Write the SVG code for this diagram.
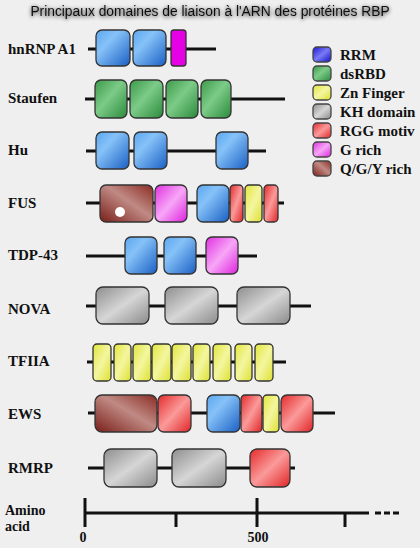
<svg xmlns="http://www.w3.org/2000/svg" width="420" height="548" viewBox="0 0 420 548">
<defs>
<linearGradient id="gB" x1="0" y1="0" x2="1" y2="1"><stop offset="0" stop-color="#5aa6f0"/><stop offset="0.35" stop-color="#86c2f8"/><stop offset="1" stop-color="#1a5fc4"/></linearGradient>
<linearGradient id="gG" x1="0" y1="0" x2="1" y2="1"><stop offset="0" stop-color="#3c9a48"/><stop offset="0.45" stop-color="#7ccb88"/><stop offset="1" stop-color="#2a8a3a"/></linearGradient>
<linearGradient id="gK" x1="0" y1="0" x2="1" y2="1"><stop offset="0" stop-color="#8e8e8e"/><stop offset="0.5" stop-color="#d6d6d6"/><stop offset="1" stop-color="#8a8a8a"/></linearGradient>
<linearGradient id="gY" x1="0" y1="0" x2="1" y2="1"><stop offset="0" stop-color="#e2e63a"/><stop offset="0.5" stop-color="#f4f6a0"/><stop offset="1" stop-color="#dde030"/></linearGradient>
<linearGradient id="gR" x1="0" y1="0" x2="1" y2="1"><stop offset="0" stop-color="#e42a2a"/><stop offset="0.5" stop-color="#fb9a9a"/><stop offset="1" stop-color="#e02424"/></linearGradient>
<linearGradient id="gM" x1="0" y1="0" x2="1" y2="1"><stop offset="0" stop-color="#e030e0"/><stop offset="0.5" stop-color="#f7a6f7"/><stop offset="1" stop-color="#dd22dd"/></linearGradient>
<linearGradient id="gQ" x1="0" y1="1" x2="1" y2="0"><stop offset="0" stop-color="#7a1e18"/><stop offset="0.55" stop-color="#c08a84"/><stop offset="1" stop-color="#8a2c24"/></linearGradient>
<linearGradient id="gLB" x1="0" y1="0" x2="1" y2="1"><stop offset="0" stop-color="#1818d8"/><stop offset="0.5" stop-color="#7a7af5"/><stop offset="1" stop-color="#1010c8"/></linearGradient>
<filter id="glow" x="-10%" y="-60%" width="120%" height="220%"><feGaussianBlur in="SourceAlpha" stdDeviation="2"/><feComponentTransfer><feFuncA type="linear" slope="0.9"/></feComponentTransfer><feOffset dx="0" dy="1"/><feMerge><feMergeNode/><feMergeNode in="SourceGraphic"/></feMerge></filter>
</defs>
<style>
.bg{fill:#efefef}
.title{font-family:"Liberation Sans",Arial,sans-serif;font-size:13.8px;fill:#111}
.lbl{font-family:"Liberation Serif","Times New Roman",serif;font-size:15px;font-weight:bold;fill:#111}
.leg{font-family:"Liberation Serif","Times New Roman",serif;font-size:15px;font-weight:bold;fill:#111}
.ax{font-family:"Liberation Serif","Times New Roman",serif;font-size:14px;font-weight:bold;fill:#111}
.num{font-family:"Liberation Serif","Times New Roman",serif;font-size:14px;font-weight:bold;fill:#111}
.ln{stroke:#111;stroke-width:3;fill:none}
.bx{stroke:#333;stroke-width:1.3}
.lb{stroke:#444;stroke-width:1.3}
.B{fill:url(#gB)}.G{fill:url(#gG)}.K{fill:url(#gK)}.Y{fill:url(#gY)}.R{fill:url(#gR)}.M{fill:url(#gM)}.Q{fill:url(#gQ)}
.MS{fill:#e600e6}
</style>
<rect class="bg" x="0" y="0" width="420" height="548"/>
<text class="title" x="210" y="16" text-anchor="middle" filter="url(#glow)">Principaux domaines de liaison à l'ARN des protéines RBP</text>

<g id="legend">
<rect class="lb" x="313" y="47" width="18" height="15" rx="4" fill="url(#gLB)"/><text class="leg" x="340" y="60">RRM</text>
<rect class="lb G" x="313" y="66" width="18" height="15" rx="4"/><text class="leg" x="340" y="79">dsRBD</text>
<rect class="lb Y" x="313" y="85" width="18" height="15" rx="4"/><text class="leg" x="340" y="98">Zn Finger</text>
<rect class="lb K" x="313" y="104" width="18" height="15" rx="4"/><text class="leg" x="340" y="117">KH domain</text>
<rect class="lb R" x="313" y="123" width="18" height="15" rx="4"/><text class="leg" x="340" y="136">RGG motiv</text>
<rect class="lb M" x="313" y="142" width="18" height="15" rx="4"/><text class="leg" x="340" y="155">G rich</text>
<rect class="lb Q" x="313" y="161" width="18" height="15" rx="4"/><text class="leg" x="340" y="174">Q/G/Y rich</text>
</g>

<g id="connectors">
<line class="ln" x1="88" y1="49" x2="216" y2="49"/>
<line class="ln" x1="85" y1="99" x2="285" y2="99"/>
<line class="ln" x1="86" y1="151" x2="266" y2="151"/>
<line class="ln" x1="86" y1="203" x2="284" y2="203"/>
<line class="ln" x1="86" y1="256" x2="257" y2="256"/>
<line class="ln" x1="86" y1="306" x2="311" y2="306"/>
<line class="ln" x1="87" y1="362" x2="286" y2="362"/>
<line class="ln" x1="88" y1="413" x2="335" y2="413"/>
<line class="ln" x1="88" y1="468" x2="295" y2="468"/>
</g>

<g id="hnRNPA1">
<text class="lbl" x="8" y="54">hnRNP A1</text>
<rect class="bx B" x="96" y="30" width="34" height="36" rx="6"/>
<rect class="bx B" x="133" y="30" width="33" height="36" rx="6"/>
<rect class="bx MS" x="171" y="30" width="15" height="36" rx="3"/>
</g>
<g id="Staufen">
<text class="lbl" x="8" y="103">Staufen</text>
<rect class="bx G" x="95" y="80" width="32" height="38" rx="6"/>
<rect class="bx G" x="130" y="80" width="33" height="38" rx="6"/>
<rect class="bx G" x="166" y="80" width="32" height="38" rx="6"/>
<rect class="bx G" x="201" y="80" width="30" height="38" rx="6"/>
</g>
<g id="Hu">
<text class="lbl" x="8" y="155">Hu</text>
<rect class="bx B" x="96" y="132" width="33" height="37" rx="6"/>
<rect class="bx B" x="134" y="132" width="33" height="37" rx="6"/>
<rect class="bx B" x="216" y="132" width="32" height="37" rx="6"/>
</g>
<g id="FUS">
<text class="lbl" x="8" y="208">FUS</text>
<rect class="bx Q" x="100" y="185" width="53" height="37" rx="6"/>
<circle cx="120" cy="212" r="5" fill="#fff"/>
<rect class="bx M" x="155" y="185" width="32" height="37" rx="6"/>
<rect class="bx B" x="197" y="185" width="32" height="37" rx="6"/>
<rect class="bx R" x="230" y="185" width="13" height="37" rx="4"/>
<rect class="bx Y" x="245" y="185" width="17" height="37" rx="4"/>
<rect class="bx R" x="264" y="185" width="14" height="37" rx="4"/>
</g>
<g id="TDP-43">
<text class="lbl" x="8" y="260">TDP-43</text>
<rect class="bx B" x="125" y="237" width="32" height="37" rx="6"/>
<rect class="bx B" x="164" y="237" width="32" height="37" rx="6"/>
<rect class="bx M" x="206" y="237" width="32" height="37" rx="6"/>
</g>
<g id="NOVA">
<text class="lbl" x="8" y="314">NOVA</text>
<rect class="bx K" x="96" y="287" width="53" height="37" rx="7"/>
<rect class="bx K" x="165" y="287" width="53" height="37" rx="7"/>
<rect class="bx K" x="237" y="287" width="53" height="37" rx="7"/>
</g>
<g id="TFIIA">
<text class="lbl" x="8" y="366">TFIIA</text>
<rect class="bx Y" x="93" y="344" width="18" height="37" rx="4"/>
<rect class="bx Y" x="114" y="344" width="17" height="37" rx="4"/>
<rect class="bx Y" x="133" y="344" width="18" height="37" rx="4"/>
<rect class="bx Y" x="152" y="344" width="19" height="37" rx="4"/>
<rect class="bx Y" x="172" y="344" width="19" height="37" rx="4"/>
<rect class="bx Y" x="193" y="344" width="17" height="37" rx="4"/>
<rect class="bx Y" x="213" y="344" width="18" height="37" rx="4"/>
<rect class="bx Y" x="235" y="344" width="17" height="37" rx="4"/>
<rect class="bx Y" x="255" y="344" width="18" height="37" rx="4"/>
</g>
<g id="EWS">
<text class="lbl" x="8" y="419">EWS</text>
<rect class="bx Q" x="95" y="395" width="62" height="37" rx="7"/>
<rect class="bx R" x="158" y="395" width="33" height="37" rx="6"/>
<rect class="bx B" x="207" y="395" width="33" height="37" rx="6"/>
<rect class="bx R" x="241" y="395" width="21" height="37" rx="4"/>
<rect class="bx Y" x="263" y="395" width="16" height="37" rx="4"/>
<rect class="bx R" x="281" y="395" width="32" height="37" rx="6"/>
</g>
<g id="RMRP">
<text class="lbl" x="8" y="473">RMRP</text>
<rect class="bx K" x="104" y="449" width="53" height="38" rx="7"/>
<rect class="bx K" x="172" y="449" width="54" height="38" rx="7"/>
<rect class="bx R" x="250" y="449" width="40" height="38" rx="7"/>
</g>
<g id="axis">
<text class="ax" x="5" y="515">Amino</text>
<text class="ax" x="5" y="531">acid</text>
<line class="ln" x1="85" y1="513" x2="369" y2="513"/>
<line class="ln" x1="375" y1="513" x2="400" y2="513" stroke-dasharray="6,3"/>
<line class="ln" x1="85" y1="498" x2="85" y2="527"/>
<line class="ln" x1="176" y1="513" x2="176" y2="527"/>
<line class="ln" x1="257" y1="498" x2="257" y2="527"/>
<line class="ln" x1="345" y1="513" x2="345" y2="527"/>
<text class="num" x="83" y="542" text-anchor="middle">0</text>
<text class="num" x="258" y="542" text-anchor="middle">500</text>
</g>
</svg>
